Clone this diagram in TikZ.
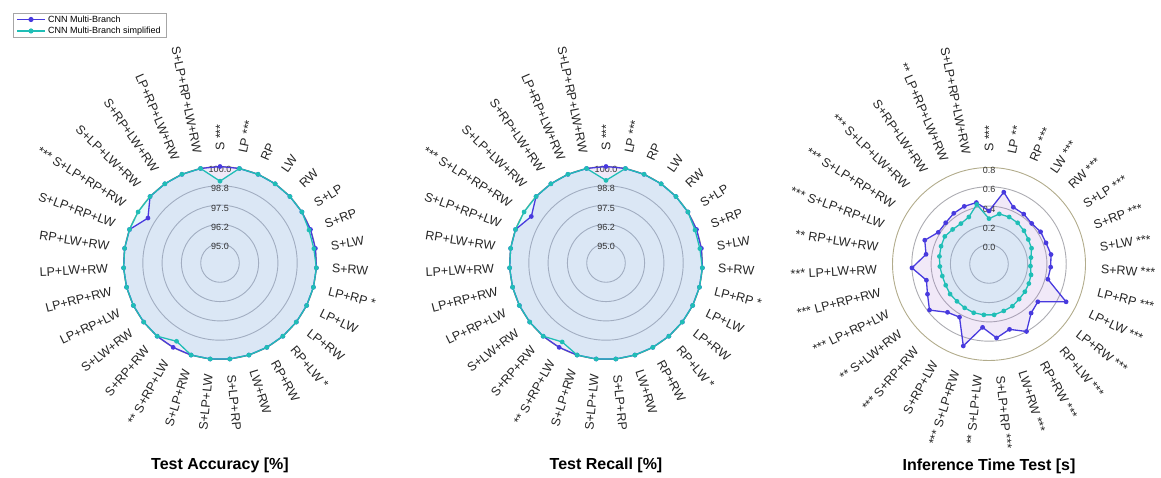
\documentclass[tikz,border=0pt]{standalone}
\usepackage{fontspec}
\setmainfont{Liberation Sans}
\usetikzlibrary{calc}

\definecolor{seriesA}{RGB}{72,58,222}
\definecolor{seriesB}{RGB}{32,190,182}
\definecolor{fillA}{RGB}{160,110,210}
\definecolor{fillB}{RGB}{130,220,235}
\definecolor{ringcol}{RGB}{172,172,178}
\definecolor{outerring}{RGB}{178,172,140}

\tikzset{
  ring/.style={draw=ringcol, line width=0.9pt},
  outer ring/.style={draw=outerring, line width=0.9pt},
  ringlbl/.style={font=\fontsize{9}{10}\selectfont, text=black!80, inner sep=0pt},
  axlbl/.style={font=\fontsize{12.5}{14}\selectfont, text=black!85, inner sep=0pt},
  ttl/.style={font=\bfseries\fontsize{16}{19}\selectfont, inner sep=0pt},
  lineA/.style={draw=seriesA, line width=1.3pt, line join=round},
  lineB/.style={draw=seriesB, line width=1.3pt, line join=round},
  areaA/.style={fill=fillA, fill opacity=0.15},
  areaB/.style={fill=fillB, fill opacity=0.2},
  dotA/.style={fill=seriesA},
  dotB/.style={fill=seriesB},
  legbox/.style={draw=black!35, fill=white, line width=0.5pt},
  legtxt/.style={font=\fontsize{9}{10}\selectfont, anchor=west, inner sep=0pt},
}

% radius of the outer ring and of the axis labels
\def\radR{96.5}
\def\radL{112}

% #1 prefix, #2 centre, #3 value at centre, #4 value at outer ring,
% #5 ring labels, #6 first series, #7 second series,
% #8 macro holding the axis labels, #9 title
\newcommand\radarchart[9]{%
  \begin{scope}[shift={#2}]
    % concentric grid
    \foreach \k in {1,...,4} {\draw[ring] (0,0) circle ({\k*\radR/5});}
    \draw[outer ring] (0,0) circle (\radR);
    % data points of both series, 31 axes clockwise from the top
    \foreach \v [count=\k from 0] in {#6} {
      \coordinate (#1-b\k) at ({90-\k*360/31}:{(\v-(#3))/((#4)-(#3))*\radR});
    }
    \foreach \v [count=\k from 0] in {#7} {
      \coordinate (#1-c\k) at ({90-\k*360/31}:{(\v-(#3))/((#4)-(#3))*\radR});
    }
    % shaded areas
    \fill[areaA] (#1-b0) \foreach \k in {1,...,30} {-- (#1-b\k)} -- cycle;
    \fill[areaB] (#1-c0) \foreach \k in {1,...,30} {-- (#1-c\k)} -- cycle;
    % ring values
    \foreach \rl [count=\k] in {#5} {
      \node[ringlbl] (#1-r\k) at (0,{\k*\radR/5-3}) {\rl};
    }
    % series outlines and markers
    \draw[lineA] (#1-b0) \foreach \k in {1,...,30} {-- (#1-b\k)} -- cycle;
    \foreach \k in {0,...,30} {\fill[dotA] (#1-b\k) circle (2.4);}
    \draw[lineB] (#1-c0) \foreach \k in {1,...,30} {-- (#1-c\k)} -- cycle;
    \foreach \k in {0,...,30} {\fill[dotB] (#1-c\k) circle (2.4);}
    % axis labels, turned so that they stay readable
    \foreach \t [count=\k from 0] in #8 {
      \pgfmathsetmacro\ang{90-\k*360/31}
      \pgfmathtruncatemacro\flip{\ang < -90 ? 1 : 0}
      \ifnum\flip=0
        \node[axlbl, rotate=\ang, anchor=west] (#1-a\k) at (\ang:\radL) {\t};
      \else
        \pgfmathsetmacro\rot{\ang+180}
        \node[axlbl, rotate=\rot, anchor=east] (#1-a\k) at (\ang:\radL) {\t};
      \fi
    }
    \node[ttl] (#1-title) at (0,-202) {#9};
  \end{scope}
}

\def\combos{S ***, LP ***, RP, LW, RW, S+LP, S+RP, S+LW, S+RW, LP+RP *, LP+LW, LP+RW, RP+LW *, RP+RW, LW+RW, S+LP+RP, S+LP+LW, S+LP+RW, ** S+RP+LW, S+RP+RW, S+LW+RW, LP+RP+LW, LP+RP+RW, LP+LW+RW, RP+LW+RW, S+LP+RP+LW, *** S+LP+RP+RW, S+LP+LW+RW, S+RP+LW+RW, LP+RP+LW+RW, S+LP+RP+LW+RW}
\def\combosTime{S ***, LP **, RP ***, LW ***, RW ***, S+LP ***, S+RP ***, S+LW ***, S+RW ***, LP+RP ***, LP+LW ***, LP+RW ***, RP+LW ***, RP+RW ***, LW+RW ***, S+LP+RP ***, ** S+LP+LW, *** S+LP+RW, S+RP+LW, *** S+RP+RW, ** S+LW+RW, *** LP+RP+LW, *** LP+RP+RW, *** LP+LW+RW, ** RP+LW+RW, *** S+LP+RP+LW, *** S+LP+RP+RW, *** S+LP+LW+RW, S+RP+LW+RW, ** LP+RP+LW+RW, S+LP+RP+LW+RW}

\begin{document}
\begin{tikzpicture}[x=1pt, y=1pt]
  \useasboundingbox (0,0) rectangle (1161,478);

  % legend
  \draw[legbox] (13,465) rectangle (166,441);
  \coordinate (legA1) at (17,458.5);
  \coordinate (legA2) at (45,458.5);
  \coordinate (legB1) at (17,447);
  \coordinate (legB2) at (45,447);
  \draw[lineA] (legA1) -- (legA2);
  \fill[dotA] ($(legA1)!0.5!(legA2)$) circle (2.6);
  \draw[lineB] (legB1) -- (legB2);
  \fill[dotB] ($(legB1)!0.5!(legB2)$) circle (2.6);
  \node[legtxt] (legAt) at (48,458.5) {CNN Multi-Branch};
  \node[legtxt] (legBt) at (48,447) {CNN Multi-Branch simplified};

  % test accuracy
  \radarchart{acc}{(220,215)}{93.75}{100}{95.0, 96.2, 97.5, 98.8, 100.0}
    {100,100,100,100,100,100,100,100,100,100,100,100,100,100,100,100,100,100,100,100,100,100,100,100,100,100,99.25,100,100,100,100}
    {99.05,100,100,100,100,100,99.9,99.9,100,100,100,100,100,100,100,100,100,100,99.55,100,100,100,100,100,100,100,100,100,100,100,100}
    {\combos}{Test Accuracy [\%]}

  % test recall
  \radarchart{rec}{(606,215)}{93.75}{100}{95.0, 96.2, 97.5, 98.8, 100.0}
    {100,100,100,100,100,100,100,100,100,100,100,100,100,100,100,100,100,100,100,100,100,100,100,100,100,100,99.45,100,100,100,100}
    {99.1,100,100,100,100,100,99.9,99.9,100,100,100,100,100,100,100,100,100,100,99.6,100,100,100,100,100,100,100,100,100,100,100,100}
    {\combos}{Test Recall [\%]}

  % inference time
  \radarchart{inf}{(989,214)}{-0.2}{0.8}{0.0, 0.2, 0.4, 0.6, 0.8}
    {0.35,0.56,0.44,0.43,0.41,0.43,0.43,0.45,0.44,0.43,0.69,0.44,0.47,0.60,0.51,0.57,0.46,0.69,0.43,0.46,0.58,0.51,0.47,0.60,0.46,0.51,0.42,0.42,0.44,0.45,0.45}
    {0.27,0.33,0.33,0.32,0.30,0.28,0.27,0.24,0.23,0.25,0.26,0.27,0.28,0.30,0.31,0.33,0.33,0.33,0.32,0.31,0.31,0.30,0.30,0.31,0.32,0.33,0.34,0.32,0.31,0.33,0.43}
    {\combosTime}{Inference Time Test [s]}
\end{tikzpicture}
\end{document}
